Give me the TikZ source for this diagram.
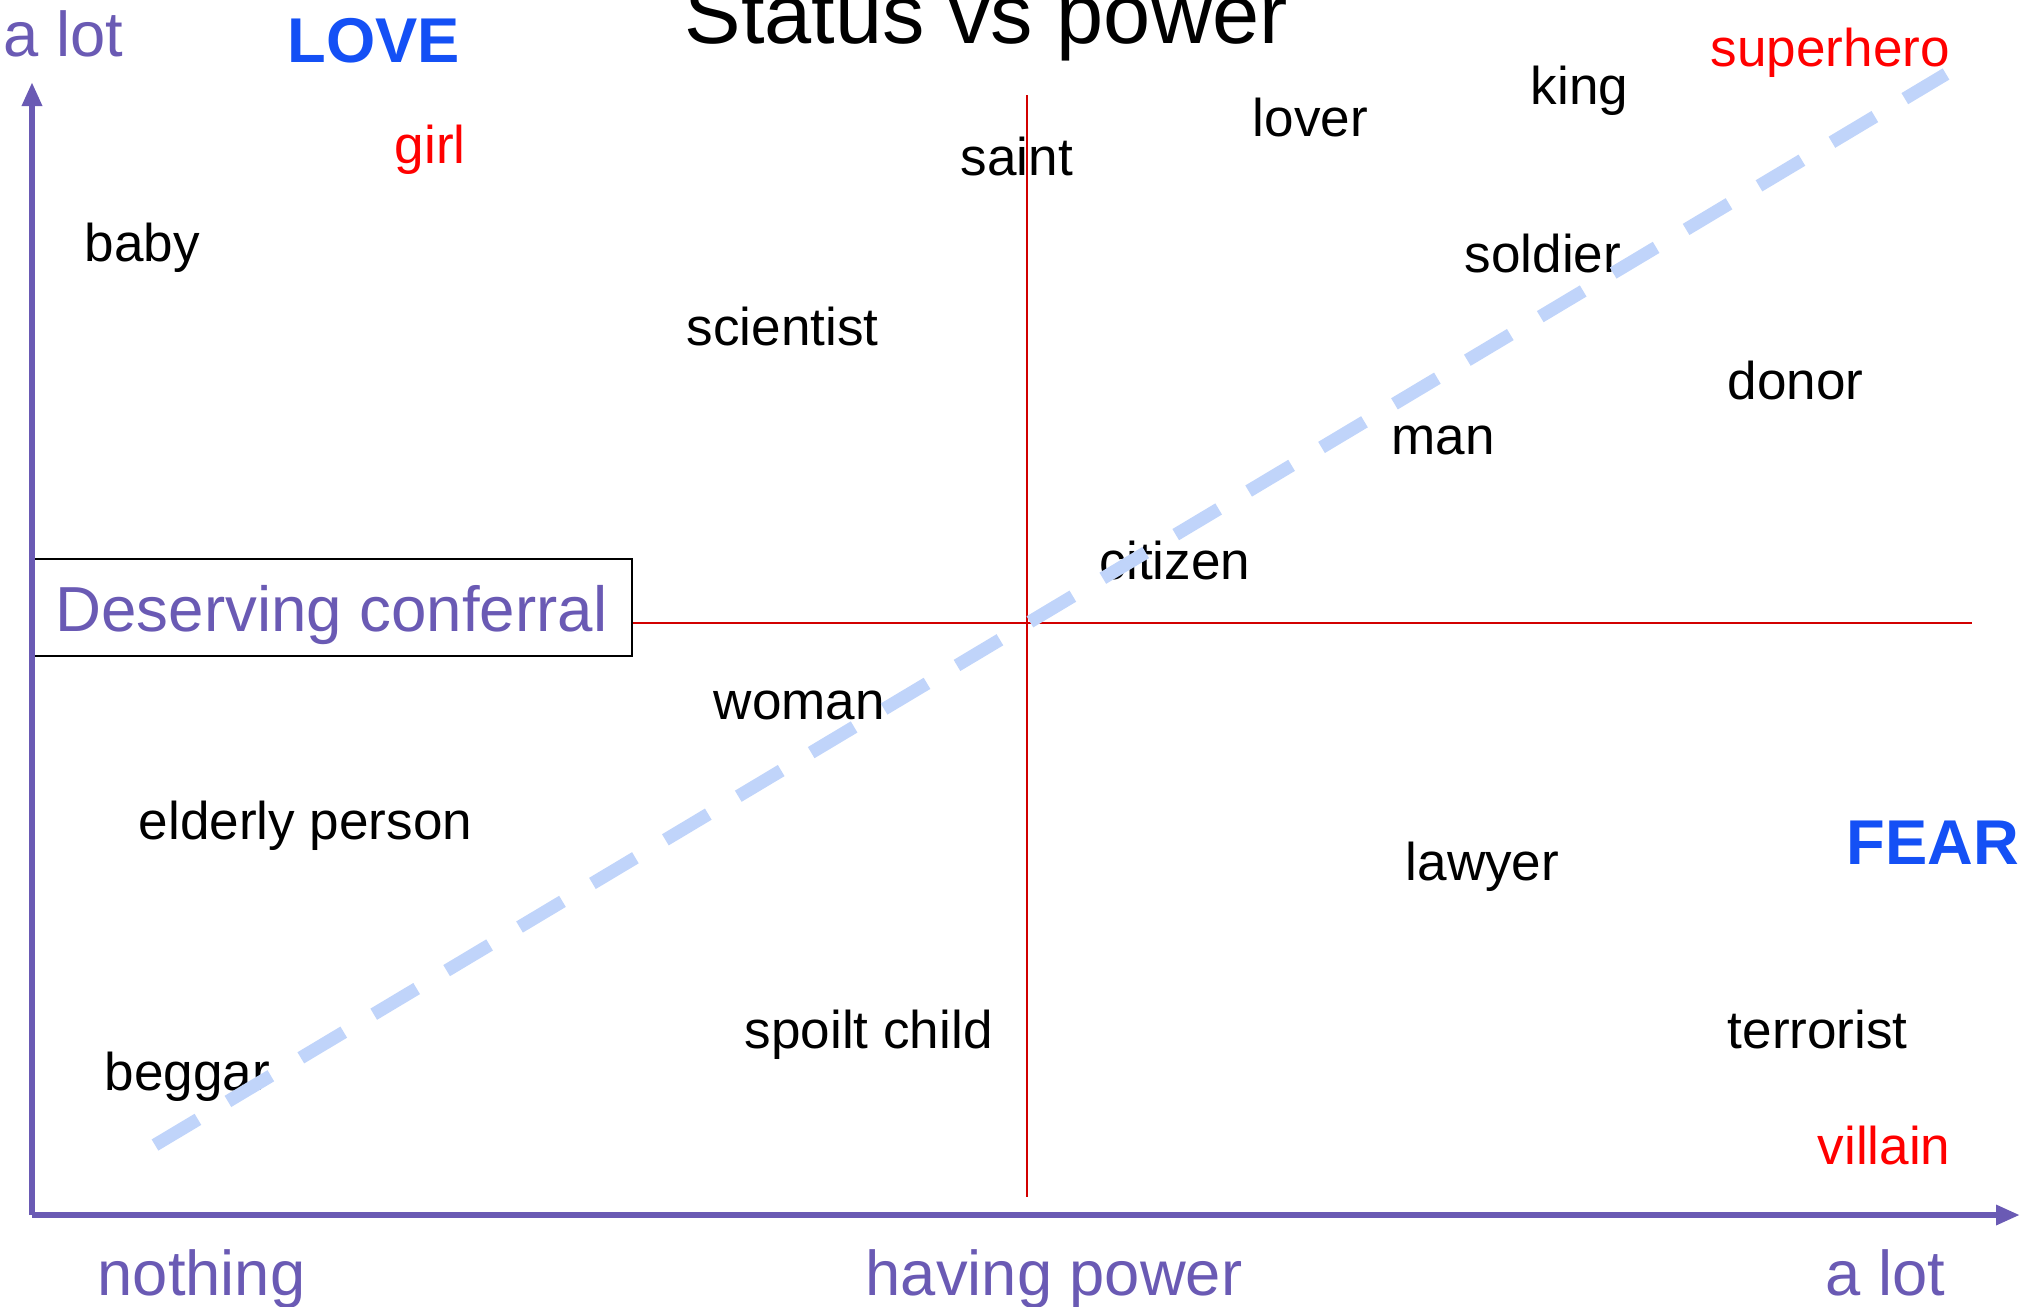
\documentclass[tikz,border=0pt]{standalone}
\usepackage{fontspec}
\setmainfont{Liberation Sans}
\usepackage{tikz}
\usetikzlibrary{arrows.meta,positioning}
\definecolor{myred}{RGB}{210,0,0}
\definecolor{mytextred}{RGB}{255,0,0}
\definecolor{mypurple}{RGB}{106,90,180}
\definecolor{myblue}{RGB}{20,80,245}
\definecolor{mylightblue}{RGB}{192,212,250}
\tikzstyle{word}=[anchor=base west,inner sep=0pt,font=\fontsize{15.1}{18}\selectfont]
\tikzstyle{redword}=[word,text=mytextred]
\tikzstyle{axislabel}=[anchor=base west,inner sep=0pt,text=mypurple,font=\fontsize{18}{21}\selectfont]
\tikzstyle{feeling}=[anchor=base west,inner sep=0pt,text=myblue,font=\fontsize{18}{21}\selectfont\bfseries]
\tikzstyle{axis}=[mypurple,line width=0.065cm,-{Triangle[length=0.24cm,width=0.19cm]}]
\tikzstyle{quadrant}=[myred,line width=0.016cm]

\begin{document}
\begin{tikzpicture}[x=0.01cm,y=-0.01cm]
\useasboundingbox (0,0) rectangle (2034,1306);
% title and corner labels
\draw (684, 43) node [anchor=base west,inner sep=0pt,font=\fontsize{24.1}{28}\selectfont] (title) {Status vs power};
\draw (3, 56) node [axislabel] (ytop) {a lot};
\draw (287, 62) node [feeling] (love) {LOVE};
\draw (1846, 864) node [feeling] (fear) {FEAR};
\draw (97, 1295) node [axislabel] (nothing) {nothing};
\draw (865, 1295) node [axislabel] (having) {having power};
\draw (1825, 1295) node [axislabel] (xend) {a lot};
% the words
\draw (1710, 67) node [redword] (superhero) {superhero};
\draw (1530, 104) node [word] (king) {king};
\draw (1252, 136) node [word] (lover) {lover};
\draw (960, 175) node [word] (saint) {saint};
\draw (394, 163) node [redword] (girl) {girl};
\draw (84, 261) node [word] (baby) {baby};
\draw (1464, 272) node [word] (soldier) {soldier};
\draw (686, 345) node [word] (scientist) {scientist};
\draw (1727, 399) node [word] (donor) {donor};
\draw (1391, 454) node [word] (man) {man};
\draw (1099, 579) node [word] (citizen) {citizen};
\draw (713, 719) node [word] (woman) {woman};
\draw (138, 839) node [word] (elderly) {elderly person};
\draw (1405, 880) node [word] (lawyer) {lawyer};
\draw (744, 1048) node [word] (spoilt) {spoilt child};
\draw (1727, 1048) node [word] (terrorist) {terrorist};
\draw (104, 1090) node [word] (beggar) {beggar};
\draw (1817, 1164) node [redword] (villain) {villain};
% box
\draw (331.5, 607.5) node [draw,line width=0.02cm,minimum width=6.01cm,minimum height=0.97cm,inner sep=0pt,text height=0.58cm,text depth=0.1cm,text=mypurple,font=\fontsize{18.1}{21}\selectfont] (conferral) {Deserving conferral};
% axes
\coordinate (origin) at (32, 1215);
\coordinate (ytip) at (32, 82);
\coordinate (xtip) at (2020, 1215);
\draw[axis] (origin) -- (ytip);
\draw[axis] (origin) -- (xtip);
% quadrants
\coordinate (vtop) at (1027, 95);
\coordinate (vbot) at (1027, 1197);
\coordinate (mid) at (1027, 623);
\coordinate (hend) at (1972, 623);
\draw[quadrant] (vtop) -- (vbot);
\draw[quadrant] (conferral.east |- mid) -- (hend);
% trend line
\coordinate (low) at (155, 1145);
\coordinate (high) at (1946, 74);
\draw[mylightblue,line width=0.13cm,dash pattern=on 0.5cm off 0.349cm] (low) -- (high);
\end{tikzpicture}
\end{document}
